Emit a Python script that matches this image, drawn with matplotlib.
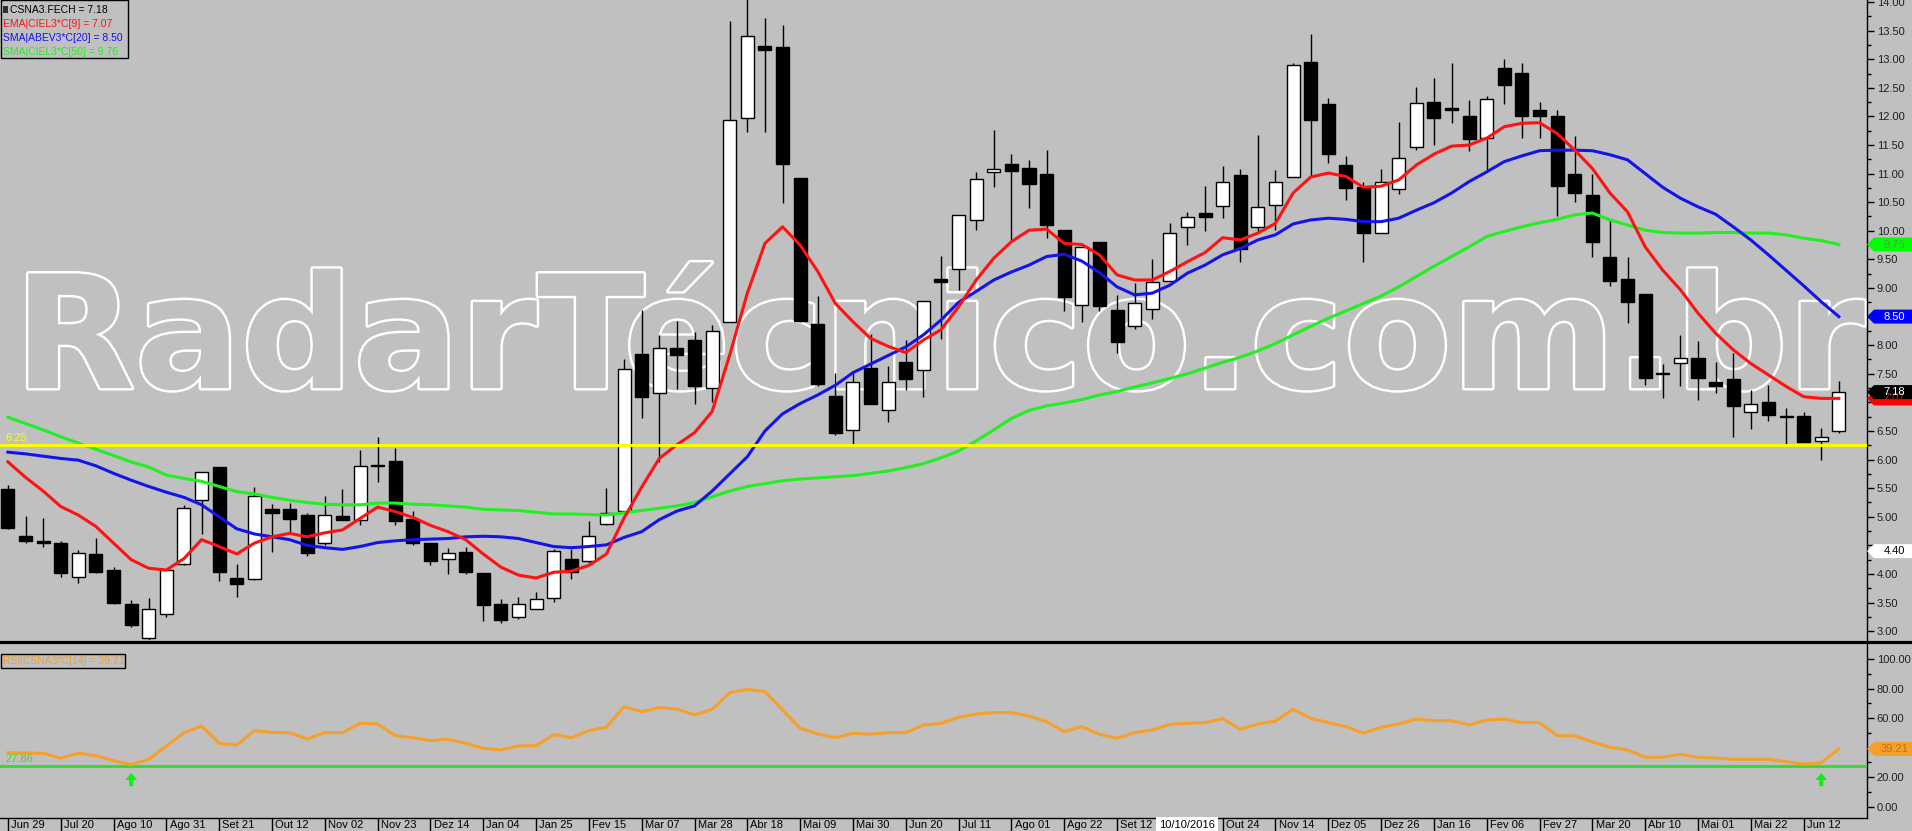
import numpy as np
import matplotlib
matplotlib.use("Agg")
import matplotlib.pyplot as plt
import matplotlib.patheffects as pe
from matplotlib.lines import Line2D
from matplotlib.patches import Polygon, Rectangle

plt.rcParams["font.family"] = ["Liberation Sans", "DejaVu Sans"]

# ---- dados (semanal, CSNA3, de 29/06/2015 a 26/06/2017) ----
opens = [5.48, 4.67, 4.57, 4.55, 3.95, 4.35, 4.07, 3.48, 2.88, 3.30,
         4.17, 5.29, 5.87, 3.93, 3.91, 5.14, 5.13, 5.03, 4.54, 5.01,
         4.94, 5.91, 5.98, 4.97, 4.54, 4.26, 4.38, 4.01, 3.48, 3.24,
         3.39, 3.58, 4.27, 4.23, 4.87, 5.11, 7.85, 7.17, 7.95, 8.09,
         7.25, 8.41, 11.98, 13.23, 13.21, 10.92, 8.37, 7.12, 6.52, 7.61,
         6.87, 7.70, 7.56, 9.16, 9.33, 10.19, 11.03, 11.16, 11.09, 10.99,
         10.01, 8.70, 9.80, 8.62, 8.34, 8.63, 9.12, 10.07, 10.31, 10.43,
         10.98, 10.06, 10.45, 10.94, 12.95, 12.21, 11.15, 10.76, 9.97, 10.73,
         11.46, 12.25, 12.13, 12.01, 11.62, 12.85, 12.76, 12.11, 12.01, 11.00,
         10.63, 9.54, 9.16, 8.90, 7.49, 7.69, 7.78, 7.35, 7.41, 6.84,
         7.00, 6.74, 6.76, 6.33, 6.50]
highs = [5.55, 5.02, 4.98, 4.58, 4.42, 4.63, 4.12, 3.55, 3.58, 4.08,
         5.20, 5.78, 5.87, 4.18, 5.52, 5.22, 5.24, 5.06, 5.36, 5.49,
         6.17, 6.39, 6.20, 5.11, 4.54, 4.45, 4.48, 4.01, 3.57, 3.60,
         3.69, 4.44, 4.44, 4.92, 5.50, 7.75, 8.61, 8.18, 8.42, 8.23,
         8.35, 13.66, 14.10, 13.72, 13.60, 10.92, 8.86, 7.51, 7.51, 8.19,
         7.64, 8.09, 8.78, 9.56, 10.27, 11.02, 11.76, 11.35, 11.23, 11.41,
         10.01, 9.71, 9.80, 8.88, 9.09, 9.50, 10.14, 10.32, 10.78, 11.13,
         11.08, 11.68, 11.06, 12.94, 13.44, 12.32, 11.30, 10.86, 11.08, 11.90,
         12.51, 12.68, 12.93, 12.29, 12.35, 13.00, 12.93, 12.25, 12.11, 11.65,
         10.99, 10.20, 9.55, 8.90, 7.67, 8.17, 8.07, 7.71, 7.87, 7.21,
         7.30, 6.90, 6.84, 6.55, 7.37]
lows = [4.79, 4.54, 4.47, 3.94, 3.84, 4.02, 3.48, 3.07, 2.84, 3.24,
        4.16, 4.70, 3.88, 3.60, 3.89, 4.39, 4.74, 4.32, 4.50, 4.94,
        4.85, 5.60, 4.85, 4.51, 4.16, 4.00, 4.00, 3.18, 3.15, 3.21,
        3.38, 3.51, 3.92, 4.19, 4.85, 5.11, 6.72, 5.95, 7.23, 6.97,
        7.01, 8.41, 11.73, 11.72, 10.48, 8.41, 7.28, 6.43, 6.28, 6.98,
        6.65, 7.21, 7.10, 8.10, 8.97, 10.01, 10.77, 9.84, 10.39, 9.88,
        8.59, 8.41, 8.59, 7.86, 8.28, 8.45, 9.12, 9.75, 9.99, 10.23,
        9.46, 9.96, 10.01, 10.94, 10.95, 11.18, 10.54, 9.45, 9.97, 10.64,
        11.42, 11.50, 11.88, 11.40, 11.06, 12.22, 11.63, 11.63, 10.26, 10.51,
        9.55, 9.04, 8.39, 7.30, 7.08, 7.29, 7.04, 7.17, 6.40, 6.53,
        6.68, 6.28, 6.30, 5.99, 6.47]
closes = [4.81, 4.58, 4.54, 4.02, 4.36, 4.04, 3.49, 3.10, 3.38, 4.07,
          5.15, 5.78, 4.04, 3.82, 5.36, 5.06, 4.96, 4.37, 5.03, 4.94,
          5.88, 5.88, 4.92, 4.55, 4.23, 4.36, 4.04, 3.46, 3.20, 3.47,
          3.57, 4.41, 4.04, 4.66, 5.06, 7.59, 7.10, 7.95, 7.82, 7.28,
          8.25, 11.94, 13.41, 13.16, 11.16, 8.43, 7.32, 6.47, 7.35, 6.98,
          7.35, 7.41, 8.78, 9.11, 10.27, 10.90, 11.08, 11.05, 10.81, 10.11,
          8.84, 9.71, 8.69, 8.05, 8.73, 9.10, 9.96, 10.24, 10.24, 10.85,
          9.69, 10.42, 10.86, 12.89, 11.93, 11.34, 10.74, 9.97, 10.86, 11.28,
          12.23, 11.98, 12.12, 11.61, 12.30, 12.55, 12.00, 12.00, 10.78, 10.66,
          9.81, 9.12, 8.76, 7.43, 7.49, 7.77, 7.43, 7.29, 6.93, 6.98,
          6.78, 6.74, 6.30, 6.40, 7.18]

ema9 = [5.96, 5.69, 5.45, 5.18, 5.03, 4.83, 4.54, 4.25, 4.10, 4.07,
        4.27, 4.60, 4.48, 4.35, 4.54, 4.65, 4.71, 4.65, 4.72, 4.77,
        4.97, 5.17, 5.09, 4.99, 4.85, 4.74, 4.60, 4.35, 4.12, 3.98,
        3.93, 4.03, 4.05, 4.15, 4.35, 4.98, 5.52, 6.02, 6.26, 6.47,
        6.84, 7.83, 8.91, 9.78, 10.07, 9.75, 9.29, 8.73, 8.41, 8.12,
        7.98, 7.87, 8.09, 8.27, 8.67, 9.14, 9.52, 9.81, 10.01, 10.03,
        9.78, 9.76, 9.58, 9.23, 9.14, 9.14, 9.29, 9.46, 9.62, 9.88,
        9.84, 9.96, 10.13, 10.66, 10.94, 11.01, 10.95, 10.76, 10.78, 10.89,
        11.15, 11.34, 11.48, 11.50, 11.62, 11.82, 11.88, 11.89, 11.70, 11.41,
        11.09, 10.66, 10.33, 9.72, 9.31, 8.97, 8.56, 8.21, 7.92, 7.68,
        7.48, 7.28, 7.10, 7.07, 7.07]
sma20 = [6.13, 6.10, 6.06, 6.02, 5.99, 5.89, 5.76, 5.64, 5.53, 5.43,
         5.34, 5.21, 5.00, 4.79, 4.70, 4.65, 4.60, 4.50, 4.46, 4.43,
         4.48, 4.55, 4.58, 4.60, 4.61, 4.62, 4.65, 4.66, 4.65, 4.62,
         4.55, 4.48, 4.46, 4.48, 4.51, 4.64, 4.74, 4.95, 5.10, 5.19,
         5.45, 5.75, 6.05, 6.50, 6.80, 6.98, 7.13, 7.30, 7.52, 7.67,
         7.82, 7.97, 8.18, 8.44, 8.75, 8.94, 9.14, 9.28, 9.40, 9.55,
         9.59, 9.47, 9.27, 9.02, 8.88, 8.91, 9.05, 9.26, 9.40, 9.58,
         9.69, 9.84, 9.93, 10.12, 10.19, 10.22, 10.20, 10.16, 10.16, 10.22,
         10.36, 10.49, 10.66, 10.86, 11.03, 11.21, 11.31, 11.40, 11.41, 11.41,
         11.40, 11.33, 11.24, 11.00, 10.76, 10.57, 10.42, 10.29, 10.07, 9.84,
         9.58, 9.31, 9.04, 8.76, 8.50]
sma50 = [6.74, 6.63, 6.52, 6.40, 6.29, 6.18, 6.07, 5.96, 5.87, 5.73,
         5.67, 5.62, 5.53, 5.44, 5.40, 5.34, 5.29, 5.25, 5.22, 5.21,
         5.21, 5.24, 5.24, 5.22, 5.21, 5.19, 5.17, 5.13, 5.12, 5.11,
         5.08, 5.05, 5.05, 5.04, 5.03, 5.07, 5.11, 5.15, 5.19, 5.25,
         5.35, 5.45, 5.53, 5.58, 5.63, 5.66, 5.68, 5.70, 5.72, 5.76,
         5.80, 5.86, 5.93, 6.03, 6.15, 6.33, 6.52, 6.72, 6.86, 6.94,
         6.99, 7.05, 7.13, 7.19, 7.27, 7.34, 7.42, 7.50, 7.60, 7.70,
         7.79, 7.90, 8.03, 8.18, 8.33, 8.47, 8.60, 8.73, 8.86, 9.02,
         9.20, 9.38, 9.55, 9.72, 9.90, 9.99, 10.07, 10.14, 10.20, 10.28,
         10.31, 10.19, 10.10, 10.01, 9.97, 9.96, 9.96, 9.97, 9.97, 9.96,
         9.96, 9.93, 9.87, 9.83, 9.76]
rsi14 = [36.6, 36.4, 36.2, 32.9, 36.2, 34.6, 31.2, 28.6, 32.1, 41.2,
         50.2, 54.7, 43.0, 41.8, 51.6, 50.4, 50.2, 45.9, 50.2, 50.2,
         56.5, 56.1, 48.2, 46.8, 44.8, 45.7, 43.0, 39.6, 38.5, 41.2,
         41.4, 48.9, 46.8, 51.6, 53.9, 67.8, 64.4, 67.2, 66.2, 62.2,
         66.0, 77.3, 79.6, 78.0, 65.6, 53.1, 49.3, 46.8, 49.8, 49.1,
         50.2, 50.2, 55.4, 56.5, 60.6, 62.8, 63.8, 63.8, 61.5, 57.6,
         50.9, 54.3, 49.1, 46.4, 50.2, 52.0, 55.8, 56.5, 57.0, 59.7,
         52.5, 56.1, 58.1, 66.0, 59.9, 57.0, 54.3, 49.8, 53.9, 56.1,
         59.4, 58.3, 58.3, 55.4, 58.8, 59.4, 57.0, 57.0, 48.2, 48.0,
         44.0, 40.3, 38.5, 33.5, 33.5, 35.5, 33.5, 33.0, 32.1, 32.1,
         32.1, 30.5, 28.9, 29.8, 39.21]

date_labels = ["Jun 29", "Jul 20", "Ago 10", "Ago 31", "Set 21", "Out 12",
               "Nov 02", "Nov 23", "Dez 14", "Jan 04", "Jan 25", "Fev 15",
               "Mar 07", "Mar 28", "Abr 18", "Mai 09", "Mai 30", "Jun 20",
               "Jul 11", "Ago 01", "Ago 22", "Set 12", "Out 03", "Out 24",
               "Nov 14", "Dez 05", "Dez 26", "Jan 16", "Fev 06", "Fev 27",
               "Mar 20", "Abr 10", "Mai 01", "Mai 22", "Jun 12"]
label_step = 3
support_level = 6.25
rsi_level = 27.86
rsi_signals = [7, 103]
cursor_idx, cursor_date, cursor_price = 67, "10/10/2016", 4.40

# ---- layout em pixels ----
W, H = 1912, 831
BG = "#c0c0c0"
PLOT_R = 1867
RED, BLUE, GREEN = "#ff1212", "#1414e8", "#22ee22"
ORANGE, YELLOW, LGREEN = "#f5a02a", "#ffff00", "#33dd33"
P_LIM = (2.846, 14.035)
R_LIM = (-7.66, 110.98)

fig = plt.figure(figsize=(W / 100, H / 100), dpi=100, facecolor=BG)


def fx(x):
    return x / W


def fy(y):
    return 1 - y / H


def px_axes(x0, y0, x1, y1):
    a = fig.add_axes([fx(x0), fy(y1), (x1 - x0) / W, (y1 - y0) / H])
    a.set_facecolor(BG)
    return a


ax = px_axes(0, 0, PLOT_R, 640)
rax = px_axes(0, 643, PLOT_R, 818)
dax = px_axes(0, 818, PLOT_R, 831)

n = len(closes)
idx = np.arange(n)
for a in (ax, rax, dax):
    a.set_xlim(-0.45, 105.6)
    for s in ("left", "top", "bottom"):
        a.spines[s].set_visible(False)
    a.spines["right"].set_linewidth(1.0)
    a.set_xticks([])
ax.set_ylim(*P_LIM)
rax.set_ylim(*R_LIM)
dax.set_ylim(0, 1)
dax.set_yticks([])
dax.spines["right"].set_visible(False)
dax.spines["top"].set_visible(True)
dax.spines["top"].set_linewidth(1.0)

# marca d'agua
ax.text(0.34, 7.25, "RadarTécnico.com.br", fontsize=113.2, fontweight="bold",
        family="DejaVu Sans", color=BG, ha="left", va="baseline", zorder=1,
        path_effects=[pe.Stroke(linewidth=3.5, foreground="white"), pe.Normal()])

# candles
o, h, l, c = map(np.array, (opens, highs, lows, closes))
up = c >= o
ax.vlines(idx, l, h, color="black", lw=1, zorder=3)
ax.bar(idx, np.maximum(np.abs(c - o), 0.02), bottom=np.minimum(o, c), width=0.74,
       color=np.where(up, "white", "black"), edgecolor="black", linewidth=1, zorder=4)

ax.plot(idx, sma50, color=GREEN, lw=2.2, zorder=5)
ax.plot(idx, sma20, color=BLUE, lw=2.2, zorder=5)
ax.plot(idx, ema9, color=RED, lw=2.2, zorder=5)
ax.axhline(support_level, color=YELLOW, lw=2.2, zorder=6)
ax.annotate(f"{support_level:.2f}", xy=(0, support_level), xycoords=("axes fraction", "data"),
            xytext=(5, 2), textcoords="offset pixels", color=YELLOW, fontsize=8, va="bottom")

# tags do eixo direito (valores atuais)
price_tags = [(sma50[-1], "#00ff00", "#5a9a5a"),
              (sma20[-1], "#0000ff", "white"),
              (ema9[-1], "#ff0000", "#ff0000"),
              (closes[-1], "black", "white"),
              (cursor_price, "white", "black")]


def axis_labels(a, ticks, tag_vals, lim, height_px):
    per_px = (lim[1] - lim[0]) / height_px
    labs = []
    for t in ticks:
        near = any(abs(t - v) / per_px < 11 for v in tag_vals)
        labs.append("" if near else f"{t:.2f}")
    a.yaxis.tick_right()
    a.set_yticks(ticks)
    a.set_yticklabels(labs)
    a.tick_params(axis="y", which="major", length=5, width=1, pad=2, labelsize=8, labelcolor="#202020")
    a.tick_params(axis="y", which="minor", length=3, width=1)


axis_labels(ax, np.arange(3.0, 14.01, 0.5), [v for v, _, _ in price_tags], P_LIM, 640)
ax.set_yticks(np.arange(3.25, 14.0, 0.5), minor=True)

# RSI
rax.plot(idx, rsi14, color=ORANGE, lw=2.2, zorder=4)
rax.axhline(rsi_level, color=LGREEN, lw=2.2, zorder=3)
rax.annotate(f"{rsi_level:.2f}", xy=(0, rsi_level), xycoords=("axes fraction", "data"),
             xytext=(5, 2), textcoords="offset pixels", color=LGREEN, fontsize=8, va="bottom")
for s in rsi_signals:
    rax.annotate("", xy=(s, rsi_level - 5), xytext=(s, rsi_level - 14),
                 arrowprops=dict(arrowstyle="simple,head_width=0.85,head_length=0.5,tail_width=0.3",
                                 color="#11ee11", lw=0, shrinkA=0, shrinkB=0), zorder=6)
axis_labels(rax, [0, 20, 40, 60, 80, 100], [rsi14[-1]], R_LIM, 175)
rax.set_yticks([10, 30, 50, 70, 90], minor=True)


def tag(a, value, half, face, tcolor):
    k = 1.0 / PLOT_R
    tr = a.get_yaxis_transform()
    pts = [(1.0, value), (1 + 7 * k, value + half), (1 + 45 * k, value + half),
           (1 + 45 * k, value - half), (1 + 7 * k, value - half)]
    a.add_patch(Polygon(pts, closed=True, transform=tr, facecolor=face,
                        edgecolor="none", clip_on=False, zorder=10))
    a.text(1 + 27 * k, value, f"{value:.2f}", transform=tr, ha="center", va="center",
           fontsize=8, color=tcolor, clip_on=False, zorder=11)


for v, face, tc in price_tags:
    tag(ax, v, 7 * (P_LIM[1] - P_LIM[0]) / 640, face, tc)
tag(rax, rsi14[-1], 7 * (R_LIM[1] - R_LIM[0]) / 175, ORANGE, "#b8741c")

# datas (o rótulo sob o cursor fica encoberto pela data destacada)
for k, lab in enumerate(date_labels):
    xi = k * label_step
    dax.axvline(xi, color="black", lw=1)
    if abs(xi - cursor_idx) > 1.5:
        dax.text(xi + 0.18, 0.45, lab, ha="left", va="center", fontsize=8, color="black")
dax.text(cursor_idx, 0.45, cursor_date, ha="center", va="center", fontsize=8, color="black",
         bbox=dict(boxstyle="square,pad=0.28", fc="white", ec="none"), zorder=5)

# separador entre paineis
fig.add_artist(Line2D([0, 1], [fy(641.5)] * 2, transform=fig.transFigure, color="black", lw=2.3))

# legendas
fig.add_artist(Rectangle((fx(0.5), fy(58)), 127 / W, 57.5 / H, transform=fig.transFigure,
                         facecolor="none", edgecolor="black", lw=1))
fig.add_artist(Rectangle((fx(3), fy(13)), 5 / W, 7 / H, transform=fig.transFigure,
                         facecolor="#303030", edgecolor="none"))
legend = [(f"CSNA3.FECH = {closes[-1]:.2f}", "black", 10),
          (f"EMA|CIEL3*C[9] = {ema9[-1]:.2f}", RED, 3),
          (f"SMA|ABEV3*C[20] = {sma20[-1]:.2f}", BLUE, 3),
          (f"SMA|CIEL3*C[50] = {sma50[-1]:.2f}", GREEN, 3)]
for j, (txt, col, x0) in enumerate(legend):
    fig.text(fx(x0), fy(10 + 14 * j), txt, color=col, fontsize=7.5, va="center", ha="left")

fig.add_artist(Rectangle((fx(0.5), fy(668)), 124 / W, 14 / H, transform=fig.transFigure,
                         facecolor="none", edgecolor="black", lw=1))
fig.text(fx(3), fy(661), f"RSI|CSNA3*C[14] = {rsi14[-1]:.2f}", color=ORANGE, fontsize=7.5,
         va="center", ha="left")

fig.savefig("out.png", dpi=100, facecolor=BG)
